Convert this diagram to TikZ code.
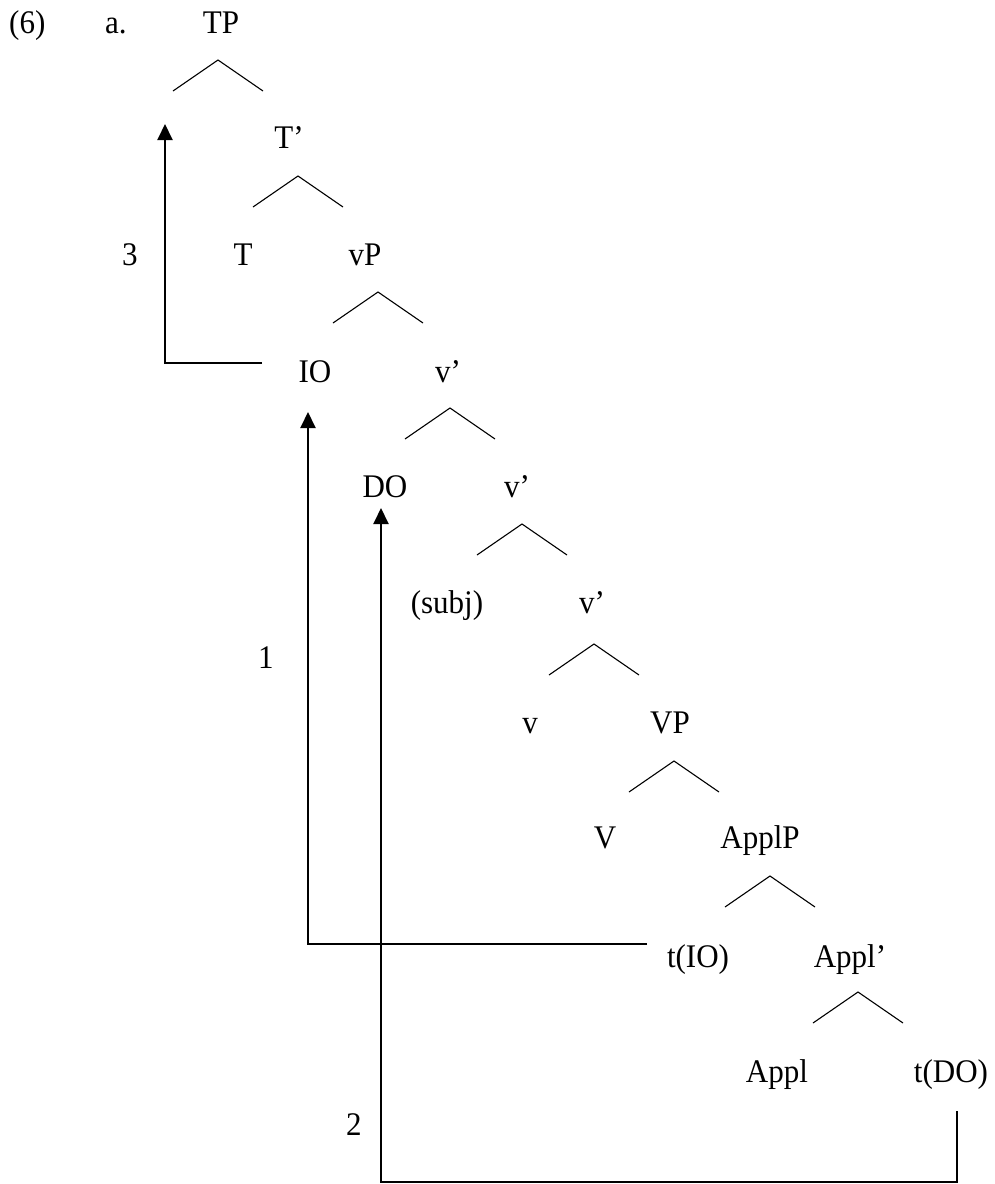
\documentclass[tikz,border=0pt]{standalone}
\usepackage{fontspec}
\setmainfont[FakeStretch=0.94]{Liberation Serif}
\usetikzlibrary{arrows.meta}
\begin{document}
\begin{tikzpicture}[x=1pt,y=-1pt,
  lab/.style={anchor=base,inner sep=0pt,font=\fontsize{33}{39}\selectfont},
  labw/.style={anchor=base west,inner sep=0pt,font=\fontsize{33}{39}\selectfont},
  branch/.style={line width=1.1pt,line cap=butt},
  move/.style={line width=2pt,-{Triangle[width=15pt,length=16pt]}},
  wedge/.pic={\draw[branch] (-45,31) -- (0,0) -- (45,31);}
]
\useasboundingbox (0,0) rectangle (995,1184);
% labels
\node[labw] (ex) at (9,33) {(6)};
\node[labw] (sub) at (105,33) {a.};
\node[lab] (TP) at (221,33) {TP};
\node[lab] (Tbar) at (289,148) {T’};
\node[lab] (T) at (243,265) {T};
\node[lab] (vP) at (365,265) {vP};
\node[lab] (n3) at (130,265) {3};
\node[lab] (IO) at (315,382) {IO};
\node[lab] (vbarA) at (448,382) {v’};
\node[lab] (DO) at (385,497) {DO};
\node[lab] (vbarB) at (517,497) {v’};
\node[lab] (subj) at (447,613) {(subj)};
\node[lab] (vbarC) at (592,613) {v’};
\node[lab] (n1) at (266,668) {1};
\node[lab] (v) at (530,733) {v};
\node[lab] (VP) at (670,733) {VP};
\node[lab] (V) at (605,848) {V};
\node[lab] (ApplP) at (760,848) {ApplP};
\node[lab] (tIO) at (698,967) {t(IO)};
\node[lab] (Applbar) at (850,967) {Appl’};
\node[lab] (Appl) at (777,1082) {Appl};
\node[lab] (tDO) at (951,1082) {t(DO)};
\node[lab] (n2) at (354,1135) {2};
% branches
\pic at (218,60) {wedge};
\pic at (298,176) {wedge};
\pic at (378,292) {wedge};
\pic at (450,408) {wedge};
\pic at (522,524) {wedge};
\pic at (594,644) {wedge};
\pic at (674,761) {wedge};
\pic at (770,876) {wedge};
\pic at (858,992) {wedge};
% movement arrows
\coordinate (m3s) at (262,363);
\coordinate (m3c) at (165,363);
\coordinate (m3e) at (165,124);
\draw[move] (m3s) -- (m3c) -- (m3e);
\coordinate (m1s) at (647,944);
\coordinate (m1c) at (308,944);
\coordinate (m1e) at (308,412);
\draw[move] (m1s) -- (m1c) -- (m1e);
\coordinate (m2s) at (957,1111);
\coordinate (m2c1) at (957,1182);
\coordinate (m2c2) at (381,1182);
\coordinate (m2e) at (381,508);
\draw[move] (m2s) -- (m2c1) -- (m2c2) -- (m2e);
\end{tikzpicture}
\end{document}
